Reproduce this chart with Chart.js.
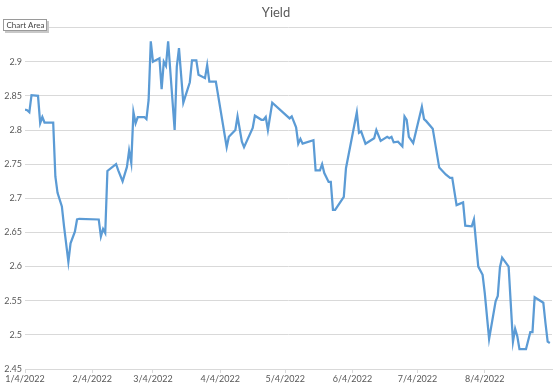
<!DOCTYPE html>
<html>
<head>
<meta charset="utf-8">
<script src="https://cdn.jsdelivr.net/npm/chart.js@4"></script>
<style>
  html, body { margin: 0; padding: 0; background: #ffffff; }
  #yieldChart { display: block; }
</style>
</head>
<body>
<canvas id="yieldChart" width="554" height="385"></canvas>
<script>
// Days counted from 1/4/2022
const dayOffsets = [
  0, 1, 2, 3, 6, 7, 8, 9, 13, 14, 15, 17, 18, 20, 21, 23, 24, 25, 34, 35,
  36, 37, 38, 42, 43, 45, 47, 48, 49, 50, 51, 52, 55, 56, 57, 58, 59, 62, 63, 64,
  65, 66, 69, 70, 71, 73, 76, 77, 79, 80, 83, 84, 85, 88, 93, 94, 97, 98, 100, 101,
  105, 106, 109, 110, 111, 112, 114, 122, 123, 125, 126, 127, 128, 133, 134, 136, 137, 138, 140, 141,
  142, 143, 147, 148, 153, 154, 155, 157, 161, 162, 164, 167, 168, 169, 170, 172, 174, 175, 176, 177,
  179, 183, 184, 185, 188, 191, 194, 196, 197, 199, 202, 203, 206, 207, 209, 211, 212, 214, 217, 218,
  219, 220, 223, 225, 226, 227, 228, 231, 233, 234, 235, 239, 240, 241, 242
];

const yields = [
  2.830, 2.829, 2.826, 2.851, 2.850, 2.810, 2.819, 2.811, 2.811, 2.732, 2.708, 2.688, 2.659, 2.607, 2.634, 2.651, 2.669, 2.670, 2.669, 2.644,
  2.655, 2.649, 2.740, 2.750, 2.741, 2.725, 2.746, 2.770, 2.752, 2.826, 2.810, 2.819, 2.819, 2.816, 2.844, 2.930, 2.900, 2.905, 2.860, 2.900,
  2.894, 2.930, 2.800, 2.893, 2.920, 2.840, 2.870, 2.902, 2.902, 2.881, 2.876, 2.895, 2.871, 2.871, 2.775, 2.790, 2.800, 2.820, 2.783, 2.775,
  2.803, 2.821, 2.815, 2.815, 2.819, 2.800, 2.840, 2.817, 2.820, 2.804, 2.780, 2.787, 2.780, 2.785, 2.741, 2.741, 2.750, 2.737, 2.724, 2.724,
  2.683, 2.683, 2.702, 2.744, 2.826, 2.796, 2.798, 2.780, 2.788, 2.800, 2.784, 2.790, 2.788, 2.790, 2.782, 2.783, 2.776, 2.820, 2.815, 2.790,
  2.781, 2.834, 2.816, 2.813, 2.802, 2.745, 2.735, 2.730, 2.730, 2.690, 2.694, 2.660, 2.659, 2.669, 2.600, 2.588, 2.561, 2.494, 2.549, 2.557,
  2.599, 2.613, 2.600, 2.490, 2.509, 2.498, 2.479, 2.479, 2.504, 2.504, 2.555, 2.547, 2.517, 2.490, 2.488
];

const monthOffsets = [0, 31, 59, 90, 120, 151, 181, 212];
const monthLabels = ['1/4/2022', '2/4/2022', '3/4/2022', '4/4/2022', '5/4/2022', '6/4/2022', '7/4/2022', '8/4/2022'];

const points = dayOffsets.map((d, i) => ({ x: d, y: yields[i] }));

// Excel hover box in the top left corner
const chartAreaLabel = {
  id: 'chartAreaLabel',
  afterDraw(chart) {
    const c = chart.ctx;
    c.save();
    c.fillStyle = '#c8c8c8';
    c.fillRect(5, 21, 44, 12);
    c.fillStyle = '#ffffff';
    c.fillRect(3, 19, 44, 12);
    c.strokeStyle = '#9a9a9a';
    c.lineWidth = 1;
    c.strokeRect(3.5, 19.5, 43, 11);
    c.fillStyle = '#444444';
    c.font = '8px Lato';
    c.textBaseline = 'middle';
    c.fillText('Chart Area', 6.5, 25.5);
    c.restore();
  }
};

let yieldChart;

function initYieldChart() {
  const ctx = document.getElementById('yieldChart').getContext('2d');
  yieldChart = new Chart(ctx, {
    type: 'line',
    data: {
      datasets: [{
        label: 'Yield',
        data: points,
        borderColor: '#5b9bd5',
        borderWidth: 2.25,
        pointRadius: 0,
        tension: 0,
        fill: false
      }]
    },
    options: {
      responsive: false,
      animation: false,
      devicePixelRatio: 1,
      layout: {
        padding: { left: 0, right: 2, top: 0, bottom: 0 }
      },
      plugins: {
        legend: { display: false },
        tooltip: { enabled: false },
        title: {
          display: true,
          text: 'Yield',
          color: '#595959',
          font: { family: 'Lato', size: 13, weight: 'normal' },
          padding: { top: 5, bottom: 7 }
        }
      },
      scales: {
        x: {
          type: 'linear',
          min: 0,
          max: 243,
          afterBuildTicks: (scale) => {
            scale.ticks = monthOffsets.map(v => ({ value: v }));
          },
          afterFit: (scale) => { scale.height = 16; },
          grid: {
            drawOnChartArea: false,
            drawTicks: true,
            tickLength: 4,
            color: '#d9d9d9'
          },
          border: { color: '#d9d9d9' },
          ticks: {
            autoSkip: false,
            maxRotation: 0,
            padding: 1,
            color: '#595959',
            font: { family: 'Lato', size: 9 },
            callback: (value) => monthLabels[monthOffsets.indexOf(value)]
          }
        },
        y: {
          min: 2.45,
          max: 2.95,
          afterFit: (scale) => { scale.width = 25; },
          grid: {
            color: '#d9d9d9',
            drawTicks: false
          },
          border: { display: false },
          ticks: {
            stepSize: 0.05,
            padding: 3,
            color: '#595959',
            font: { family: 'Lato', size: 9 },
            callback: (value) => String(+value.toFixed(2))
          }
        }
      }
    },
    plugins: [chartAreaLabel]
  });
}

initYieldChart();
</script>
</body>
</html>
